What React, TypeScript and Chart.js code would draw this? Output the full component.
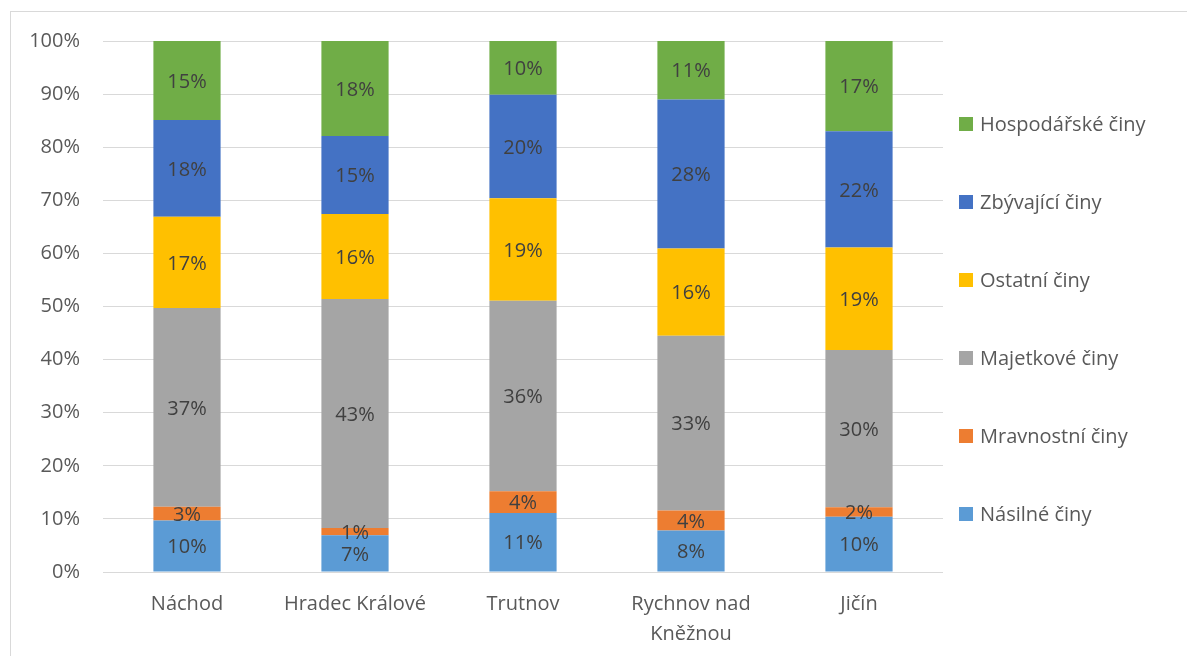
import React, { useEffect, useRef } from "react";
import { Chart, registerables } from "chart.js";

Chart.register(...registerables);

const categories: (string | string[])[] = [
  "Náchod",
  "Hradec Králové",
  "Trutnov",
  ["Rychnov nad", "Kněžnou"],
  "Jičín",
];

const seriesNames = [
  "Násilné činy",
  "Mravnostní činy",
  "Majetkové činy",
  "Ostatní činy",
  "Zbývající činy",
  "Hospodářské činy",
];

const nasilne = [9.7, 6.9, 11.1, 7.8, 10.4];
const mravnostni = [2.6, 1.4, 4.1, 3.8, 1.8];
const majetkove = [37.4, 43.1, 35.9, 32.9, 29.6];
const ostatni = [17.2, 16.0, 19.3, 16.4, 19.3];
const zbyvajici = [18.2, 14.7, 19.5, 28.1, 21.9];
const hospodarske = [14.9, 17.9, 10.1, 11.0, 17.0];

const yTicks = [0, 10, 20, 30, 40, 50, 60, 70, 80, 90, 100];

const colors = ["#5B9BD5", "#ED7D31", "#A5A5A5", "#FFC000", "#4472C4", "#70AD47"];

const FONT = "'Open Sans', Lato, sans-serif";
const FONT_SIZE = 20;

const dataLabelPlugin = {
  id: "dataLabels",
  afterDatasetsDraw(chart: any) {
    const ctx = chart.ctx;
    ctx.save();
    ctx.font = `${FONT_SIZE}px ${FONT}`;
    ctx.fillStyle = "#404040";
    ctx.textAlign = "center";
    ctx.textBaseline = "middle";
    chart.data.datasets.forEach((ds: any, di: number) => {
      const meta = chart.getDatasetMeta(di);
      meta.data.forEach((bar: any, i: number) => {
        const v = ds.data[i];
        const y = (bar.y + bar.base) / 2 + 1.5;
        ctx.fillText(Math.round(v) + "%", bar.x, y);
      });
    });
    ctx.restore();
  },
};

const legendPlugin = {
  id: "customLegend",
  afterDraw(chart: any) {
    const ctx = chart.ctx;
    const area = chart.chartArea;
    ctx.save();
    ctx.font = `${FONT_SIZE}px ${FONT}`;
    ctx.textBaseline = "middle";
    ctx.textAlign = "left";
    const n = chart.data.datasets.length;
    const startY = area.top + 83;
    const step = 78;
    for (let k = 0; k < n; k++) {
      const di = n - 1 - k;
      const ds = chart.data.datasets[di];
      const y = startY + k * step;
      const x = area.right + 16;
      ctx.fillStyle = ds.backgroundColor;
      ctx.fillRect(x, y - 7, 14, 14);
      ctx.fillStyle = "#595959";
      ctx.fillText(ds.label, x + 21, y + 1);
    }
    ctx.restore();
  },
};

export default function App() {
  const ref = useRef<HTMLCanvasElement | null>(null);

  useEffect(() => {
    document.body.style.overflow = "hidden";
    const seriesData = [nasilne, mravnostni, majetkove, ostatni, zbyvajici, hospodarske];
    const chart = new Chart(ref.current as HTMLCanvasElement, {
      type: "bar",
      data: {
        labels: categories as any,
        datasets: seriesData.map((d, i) => ({
          label: seriesNames[i],
          data: d,
          backgroundColor: colors[i],
          borderWidth: 0,
          barPercentage: 0.4,
          categoryPercentage: 1,
        })),
      },
      options: {
        animation: false,
        responsive: false,
        maintainAspectRatio: false,
        layout: { padding: { left: 8, right: 244, top: 41, bottom: 0 } },
        plugins: {
          legend: { display: false },
          tooltip: { enabled: false },
          title: { display: false },
        },
        scales: {
          x: {
            stacked: true,
            grid: { display: false, drawTicks: false },
            border: { display: false },
            ticks: {
              color: "#595959",
              font: { family: FONT, size: FONT_SIZE, lineHeight: 1.5 },
              padding: 17,
              maxRotation: 0,
              autoSkip: false,
            },
            afterFit: (s: any) => {
              s.height = 84;
            },
          },
          y: {
            stacked: true,
            min: 0,
            max: 100,
            afterBuildTicks: (s: any) => {
              s.ticks = yTicks.map((v) => ({ value: v }));
            },
            grid: { color: "#d9d9d9", lineWidth: 1, drawTicks: false },
            border: { display: false },
            ticks: {
              color: "#595959",
              font: { family: FONT, size: FONT_SIZE },
              padding: 23,
              callback: (v: any) => v + "%",
            },
            afterFit: (s: any) => {
              s.width = 95;
            },
          },
        },
      },
      plugins: [dataLabelPlugin, legendPlugin],
    });
    return () => chart.destroy();
  }, []);

  return (
    <div>
      <div
        style={{
          position: "fixed",
          left: 10,
          top: 11,
          width: 1300,
          height: 800,
          border: "1px solid #d9d9d9",
          pointerEvents: "none",
        }}
      />
      <canvas
        ref={ref}
        width={1187}
        height={656}
        style={{ position: "fixed", left: 0, top: 0, width: 1187, height: 656 }}
      />
    </div>
  );
}
